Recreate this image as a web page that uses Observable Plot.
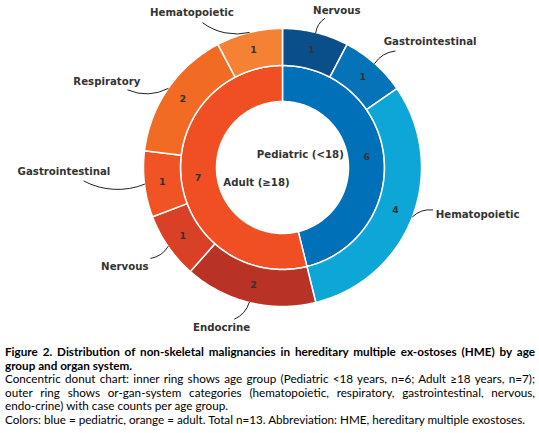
<!DOCTYPE html>
<html>
<head>
<meta charset="utf-8">
<script src="https://cdn.jsdelivr.net/npm/d3@7"></script>
<script src="https://cdn.jsdelivr.net/npm/@observablehq/plot@0.6"></script>
<style>
  body { margin: 0; background: #fff; }
  #chart { width: 539px; height: 338px; }
  .caption { width: 530px; padding: 7px 4px 0 5px; font-family: Lato, "Noto Sans", sans-serif; font-size: 11.7px; line-height: 13.6px; color: #000; }
  .caption div { white-space: nowrap; }
  .caption .b { font-weight: bold; }
  .caption .j { text-align: justify; text-align-last: justify; }
</style>
</head>
<body>
<div id="chart"></div>
<div class="caption">
  <div class="b j">Figure 2. Distribution of non-skeletal malignancies in hereditary multiple ex-ostoses (HME) by age</div>
  <div class="b">group and organ system.</div>
  <div class="j">Concentric donut chart: inner ring shows age group (Pediatric &lt;18 years, n=6; Adult ≥18 years, n=7);</div>
  <div class="j">outer ring shows or-gan-system categories (hematopoietic, respiratory, gastrointestinal, nervous,</div>
  <div>endo-crine) with case counts per age group.</div>
  <div>Colors: blue = pediatric, orange = adult. Total n=13. Abbreviation: HME, hereditary multiple exostoses.</div>
</div>
<script>
// inner ring: age groups, clockwise from 12 o'clock
const ageGroups = ["Pediatric", "Adult"]
const ageLabels = ["Pediatric (<18)", "Adult (≥18)"]
const ageCounts = [6, 7]

// outer ring: organ systems inside each age group
const organGroups = ["Pediatric", "Pediatric", "Pediatric", "Adult", "Adult", "Adult", "Adult", "Adult"]
const organNames = ["Nervous", "Gastrointestinal", "Hematopoietic", "Endocrine", "Nervous", "Gastrointestinal", "Respiratory", "Hematopoietic"]
const organCounts = [1, 1, 4, 2, 1, 1, 2, 1]

// colours
const ageColors = ["#0070b8", "#f04e23"]
const organColors = ["#0b4f8a", "#0673b9", "#0ea6d7", "#b93226", "#d94127", "#f05424", "#f26b24", "#f58234"]

// label layout: leader start radius, angle shift, text offset (px, right / down)
const leaderLayout = [
  [155, 2, 12, -8], [162, 2.5, 35, -9], [156, -5, 45, 5], [159, 3.7, -13, 9],
  [160, 0, -26, 8], [199, 3, -20, -9], [173, -8, -21, -8], [165, -15, -11, -10]
]
const centerLayout = [[22, 54], [30, 240]]

// ring radii in px
const rHole = 66, rMid = 102, rOuter = 139

const rad = a => a * Math.PI / 180
const polar = (r, a) => [r * Math.sin(rad(a)), r * Math.cos(rad(a))]
const total = d3.sum(ageCounts)
const angle = d3.scaleLinear().domain([0, total]).range([0, 360])

function wedge(a0, a1, r0, r1) {
  const n = Math.max(2, Math.ceil(a1 - a0))
  const outer = d3.range(n + 1).map(i => polar(r1, a0 + (a1 - a0) * i / n))
  const inner = d3.range(n + 1).map(i => polar(r0, a1 - (a1 - a0) * i / n))
  return [...outer, ...inner, outer[0]]
}

function slices(counts, names, keys, r0, r1, rText) {
  let acc = 0
  return counts.map((v, i) => {
    const a0 = angle(acc), a1 = angle(acc + v)
    acc += v
    const mid = (a0 + a1) / 2
    const [tx, ty] = polar(rText, mid)
    return {
      type: "Feature",
      properties: { key: keys[i], name: names[i], value: v, mid, tx, ty },
      geometry: { type: "Polygon", coordinates: [wedge(a0, a1, r0, r1)] }
    }
  })
}

const innerSlices = slices(ageCounts, ageLabels, ageGroups, rHole, rMid, 85)
const outerKeys = organNames.map((d, i) => organGroups[i] + " · " + d)
const outerSlices = slices(organCounts, organNames, outerKeys, rMid, rOuter, 121)

// leader lines and organ labels
const leaders = outerSlices.map((s, i) => {
  const [r, da, dx, dy] = leaderLayout[i]
  const [x2, y2] = polar(rOuter, s.properties.mid)
  const [x1, y1] = polar(r, s.properties.mid + da)
  return { name: s.properties.name, x1, y1, x2, y2, lx: x1 + dx, ly: y1 - dy }
})

const centerLabels = ageLabels.map((d, i) => {
  const [x, y] = polar(...centerLayout[i])
  return { name: d, x, y }
})

// frame in px around the donut centre (y up)
const frame = { type: "Polygon", coordinates: [[[-282, -171], [257, -171], [257, 167], [-282, 167], [-282, -171]]] }

const font = "DejaVu Sans"

let chart = Plot.plot({
  width: 539,
  height: 338,
  margin: 0,
  projection: { type: "reflect-y", domain: frame, inset: 0 },
  color: {
    type: "ordinal",
    domain: [...ageGroups, ...outerKeys],
    range: [...ageColors, ...organColors]
  },
  style: { fontFamily: font, background: "white" },
  marks: [
    Plot.geo([...innerSlices, ...outerSlices], { fill: d => d.properties.key, stroke: "white", strokeWidth: 1.5 }),
    Plot.text([...innerSlices, ...outerSlices], {
      x: d => d.properties.tx, y: d => d.properties.ty, text: d => String(d.properties.value),
      fontFamily: font, fontWeight: "bold", fontSize: 9.5, fill: "#333"
    }),
    Plot.arrow(leaders, { x1: "x1", y1: "y1", x2: "x2", y2: "y2", bend: -25, headLength: 0, stroke: "#222", strokeWidth: 1 }),
    Plot.text(leaders, { x: "lx", y: "ly", text: "name", fontFamily: font, fontWeight: "bold", fontSize: 10.2, fill: "#333" }),
    Plot.text(centerLabels, { x: "x", y: "y", text: "name", fontFamily: font, fontWeight: "bold", fontSize: 10.2, fill: "#333" })
  ]
})

d3.select('#chart').append(() => chart)
</script>
</body>
</html>
